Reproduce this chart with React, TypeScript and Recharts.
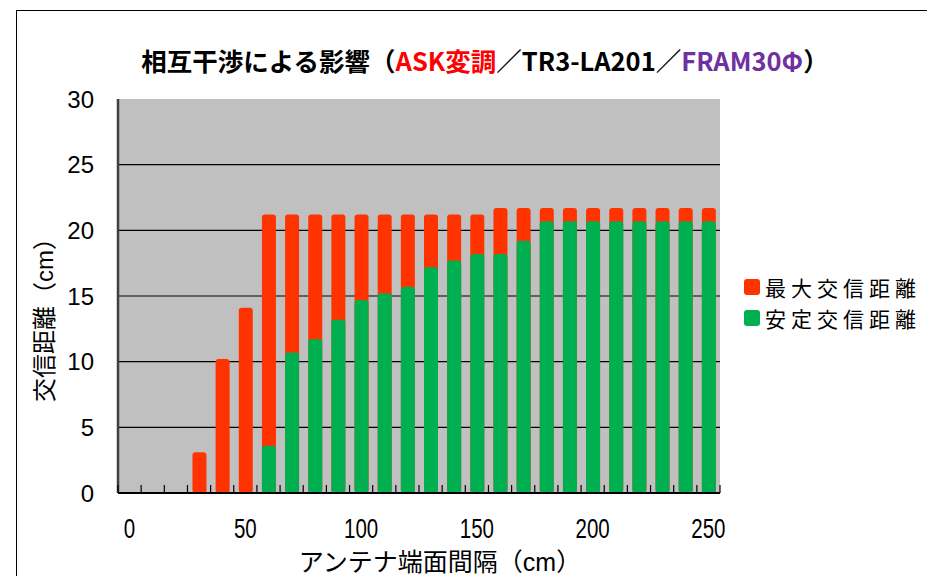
import React from 'react';
import { BarChart, Bar, XAxis, YAxis, CartesianGrid } from 'recharts';

// ---- data ----
const distances = [0, 10, 20, 30, 40, 50, 60, 70, 80, 90, 100, 110, 120, 130, 140, 150, 160, 170, 180, 190, 200, 210, 220, 230, 240, 250];
const maxDistance = [null, null, null, 3.1, 10.2, 14.1, 21.2, 21.2, 21.2, 21.2, 21.2, 21.2, 21.2, 21.2, 21.2, 21.2, 21.7, 21.7, 21.7, 21.7, 21.7, 21.7, 21.7, 21.7, 21.7, 21.7];
const stableDistance = [null, null, null, null, null, null, 3.6, 10.7, 11.7, 13.2, 14.7, 15.2, 15.7, 17.2, 17.7, 18.2, 18.2, 19.2, 20.7, 20.7, 20.7, 20.7, 20.7, 20.7, 20.7, 20.7];
const yTicks = [0, 5, 10, 15, 20, 25, 30];
const gridValues = [5, 10, 15, 20, 25];
const seriesNames = ['最大交信距離', '安定交信距離'];
const xLabelEvery = 50;
const xAxisTitle = 'アンテナ端面間隔（cm）';
const yAxisTitle = '交信距離（cm）';

const data = distances.map((d, i) => ({ d, max: maxDistance[i], stable: stableDistance[i] }));

const RED = '#FF3300';
const GREEN = '#00B050';
const X_TICK_MARGIN = 25;
const FONT_LATIN_CJK = "'Liberation Sans', 'Noto Sans CJK JP', sans-serif";

const XTick = (props: any) => {
  const { x, y, payload, index, width, visibleTicksCount } = props;
  const half = typeof payload?.offset === 'number' && payload.offset > 0 ? payload.offset : width / visibleTicksCount / 2;
  const axisY = y - X_TICK_MARGIN;
  const last = index === distances.length - 1;
  return (
    <g>
      <line x1={x - half} x2={x - half} y1={axisY} y2={axisY - 8} stroke="#000" strokeWidth={1.2} />
      {last && <line x1={x + half} x2={x + half} y1={axisY} y2={axisY - 8} stroke="#000" strokeWidth={1.2} />}
      {payload.value % xLabelEvery === 0 && (
        <text transform={`translate(${x},${y}) scale(0.76,1)`} x={0} y={0} dy="0.74em" textAnchor="middle" fill="#000"
          style={{ fontFamily: "'Liberation Sans', sans-serif", fontSize: 27 }}>
          {payload.value}
        </text>
      )}
    </g>
  );
};

export default function App() {
  return (
    <div style={{ margin: -8, width: 935, height: 584, position: 'relative', overflow: 'hidden', background: '#fff' }}>
      <div style={{ position: 'absolute', left: 16, top: 10, width: 1200, height: 1000, border: '1px solid #000', boxSizing: 'border-box' }} />
      <div style={{ position: 'absolute', left: 0, top: 43, width: 970, textAlign: 'center', whiteSpace: 'nowrap',
        fontFamily: "'Noto Sans CJK JP', sans-serif", fontWeight: 700, fontSize: 25.5, color: '#000', lineHeight: '34px' }}>
        相互干渉による影響（<span style={{ color: '#FF0000' }}>ASK変調</span>／TR3-LA201／<span style={{ color: '#7030A0' }}>FRAM30Φ</span>）
      </div>
      <div style={{ position: 'absolute', left: 0, top: 0 }}>
        <BarChart width={935} height={584} data={data} margin={{ top: 99, right: 215, bottom: 0, left: 0 }}
          barSize={14} barGap={-14}>
          <CartesianGrid fill="#C0C0C0" vertical={false} stroke="#000" strokeWidth={1.2} horizontalValues={gridValues} />
          <XAxis xAxisId="top" dataKey="d" orientation="top" height={0} tick={false} tickLine={false}
            axisLine={{ stroke: '#808080', strokeWidth: 2 }} />
          <XAxis dataKey="d" interval={0} height={91} tickSize={0} tickMargin={X_TICK_MARGIN} tickLine={false}
            axisLine={{ stroke: '#000', strokeWidth: 2 }} tick={<XTick />} />
          <YAxis domain={[0, 30]} ticks={yTicks} width={118} tickSize={0} tickMargin={24} tickLine={false}
            axisLine={{ stroke: '#404040', strokeWidth: 2.5 }}
            tick={{ fontFamily: "'Liberation Sans', sans-serif", fontSize: 24, fill: '#000' }} />
          <YAxis yAxisId="r" orientation="right" domain={[0, 30]} width={0} tick={false} tickLine={false}
            axisLine={{ stroke: '#808080', strokeWidth: 3 }} />
          <Bar dataKey="max" name={seriesNames[0]} fill={RED} radius={3} isAnimationActive={false} />
          <Bar dataKey="stable" name={seriesNames[1]} fill={GREEN} radius={3} isAnimationActive={false} />
        </BarChart>
      </div>
      <div style={{ position: 'absolute', left: 440, top: 562, transform: 'translate(-50%, -50%)', whiteSpace: 'nowrap',
        fontFamily: FONT_LATIN_CJK, fontSize: 25, color: '#000', lineHeight: '30px' }}>
        {xAxisTitle}
      </div>
      <div style={{ position: 'absolute', left: 45, top: 314, transform: 'translate(-50%, -50%) rotate(-90deg)', whiteSpace: 'nowrap',
        fontFamily: FONT_LATIN_CJK, fontSize: 24, color: '#000', lineHeight: '28px' }}>
        {yAxisTitle}
      </div>
      {seriesNames.map((n, i) => (
        <div key={n} style={{ position: 'absolute', left: 744, top: 272 + i * 31, height: 30, display: 'flex', alignItems: 'center',
          fontFamily: "'Noto Sans CJK JP', sans-serif", fontSize: 21, letterSpacing: 5, color: '#000', whiteSpace: 'nowrap', lineHeight: '30px' }}>
          <span style={{ display: 'inline-block', width: 16, height: 16, borderRadius: 3, background: i === 0 ? RED : GREEN, marginRight: 5 }} />
          {n}
        </div>
      ))}
    </div>
  );
}
